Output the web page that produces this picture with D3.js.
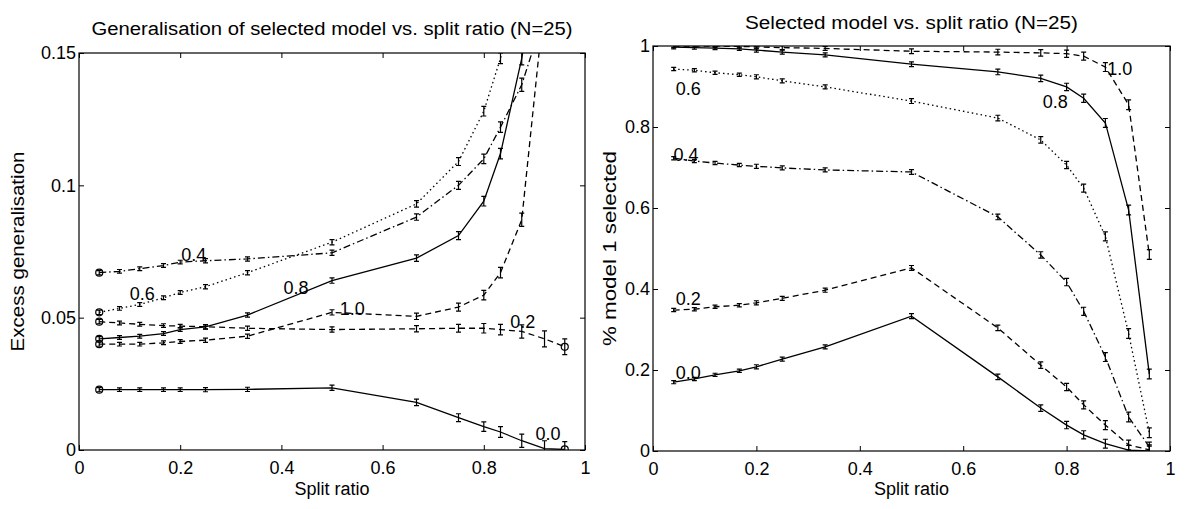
<!DOCTYPE html>
<html>
<head>
<meta charset="utf-8">
<script src="https://cdn.jsdelivr.net/npm/d3@7"></script>
<style>
body { margin: 0; background: #fff; }
text { font-family: "Liberation Sans", Arial, Helvetica, sans-serif; }
</style>
</head>
<body>
<svg id="chart" width="1188" height="509"></svg>
<script>
// split ratios (x) shared by both panels
var splitRatio = [0.04, 0.08, 0.12, 0.167, 0.2, 0.25, 0.333, 0.5, 0.667, 0.75, 0.8, 0.833, 0.875, 0.92, 0.96];
var seriesLabels = ["0.0", "0.2", "0.4", "0.6", "0.8", "1.0"];

// left panel: excess generalisation
var gen00 = [0.0228, 0.0228, 0.0228, 0.0228, 0.0228, 0.0228, 0.0229, 0.0235, 0.018, 0.0122, 0.0088, 0.0068, 0.0035, 0.0005, 0.0002];
var gen02 = [0.0485, 0.048, 0.0475, 0.047, 0.0468, 0.0466, 0.046, 0.0455, 0.0458, 0.046, 0.046, 0.0455, 0.0448, 0.042, 0.039];
var gen04 = [0.067, 0.0675, 0.0685, 0.0697, 0.071, 0.0715, 0.0722, 0.0745, 0.088, 0.100, 0.110, 0.122, 0.138, 0.165, 0.2];
var gen06 = [0.052, 0.0535, 0.055, 0.0575, 0.0595, 0.0617, 0.067, 0.0785, 0.093, 0.109, 0.128, 0.148, 0.18, 0.22, 0.26];
var gen08 = [0.042, 0.0425, 0.043, 0.044, 0.0455, 0.0465, 0.051, 0.064, 0.0725, 0.081, 0.094, 0.112, 0.148, 0.2, 0.25];
var gen10 = [0.040, 0.040, 0.040, 0.0405, 0.041, 0.0415, 0.043, 0.052, 0.0505, 0.054, 0.0585, 0.067, 0.087, 0.17, 0.22];
var genErr = [0.0008, 0.0007, 0.0007, 0.0007, 0.0007, 0.0008, 0.0008, 0.001, 0.0012, 0.0015, 0.0018, 0.002, 0.0025, 0.003, 0.003];

// right panel: % model 1 selected
var sel00 = [0.17, 0.178, 0.188, 0.198, 0.208, 0.227, 0.257, 0.333, 0.183, 0.106, 0.064, 0.040, 0.018, 0.002, 0.0];
var sel02 = [0.348, 0.35, 0.356, 0.36, 0.366, 0.377, 0.397, 0.452, 0.304, 0.212, 0.158, 0.114, 0.064, 0.015, 0.003];
var sel04 = [0.723, 0.716, 0.711, 0.706, 0.703, 0.699, 0.694, 0.689, 0.578, 0.484, 0.417, 0.345, 0.232, 0.084, 0.01];
var sel06 = [0.943, 0.94, 0.934, 0.929, 0.924, 0.914, 0.899, 0.864, 0.822, 0.768, 0.706, 0.649, 0.53, 0.29, 0.045];
var sel08 = [0.997, 0.996, 0.995, 0.993, 0.99, 0.985, 0.978, 0.955, 0.936, 0.92, 0.899, 0.871, 0.81, 0.595, 0.19];
var sel10 = [1.0, 1.0, 1.0, 0.999, 0.998, 0.996, 0.994, 0.987, 0.985, 0.983, 0.981, 0.975, 0.948, 0.855, 0.485];
var selErr = [0.004, 0.004, 0.004, 0.004, 0.005, 0.005, 0.005, 0.006, 0.007, 0.008, 0.009, 0.01, 0.011, 0.012, 0.012];

var xTicks = [0, 0.2, 0.4, 0.6, 0.8, 1];
var genTicks = [0, 0.05, 0.1, 0.15];
var selTicks = [0, 0.2, 0.4, 0.6, 0.8, 1];

// where the curve names sit, in data units
var genLabelPos = [[0.927, 0.006], [0.877, 0.0485], [0.227, 0.0739], [0.125, 0.059], [0.429, 0.0614], [0.54, 0.0534]];
var selLabelPos = [[0.068, 0.193], [0.068, 0.375], [0.064, 0.731], [0.068, 0.894], [0.778, 0.862], [0.903, 0.943]];

var dashes = ["", "6,4", "7,3,1.5,3", "1.5,3", "", "6,4"];

var svg = d3.select("#chart");

function drawPanel(cfg) {
    var g = svg.append("g");
    var x = d3.scaleLinear().domain([0, 1]).range([cfg.left, cfg.right]);
    var y = d3.scaleLinear().domain([0, cfg.ymax]).range([cfg.bottom, cfg.top]);

    g.append("clipPath").attr("id", cfg.id + "-clip")
        .append("rect")
        .attr("x", cfg.left).attr("y", cfg.top)
        .attr("width", cfg.right - cfg.left).attr("height", cfg.bottom - cfg.top);

    // axes, MATLAB style ticks pointing inwards
    var ax = [
        [d3.axisBottom(x).tickValues(xTicks).tickFormat(String).tickPadding(11), "translate(0," + cfg.bottom + ")"],
        [d3.axisTop(x).tickValues(xTicks).tickFormat(""), "translate(0," + cfg.top + ")"],
        [d3.axisLeft(y).tickValues(cfg.yTicks).tickFormat(String).tickPadding(3), "translate(" + cfg.left + ",0)"],
        [d3.axisRight(y).tickValues(cfg.yTicks).tickFormat(""), "translate(" + cfg.right + ",0)"]
    ];
    ax.forEach(function (a) {
        var s = g.append("g").attr("transform", a[1])
            .call(a[0].tickSizeInner(-5).tickSizeOuter(0));
        s.select(".domain").remove();
        s.attr("font-size", 18).attr("font-family", null);
        s.selectAll("line").attr("stroke", "#000").attr("stroke-width", 1);
        s.selectAll("text").attr("fill", "#000");
    });

    g.append("rect")
        .attr("x", cfg.left).attr("y", cfg.top)
        .attr("width", cfg.right - cfg.left).attr("height", cfg.bottom - cfg.top)
        .attr("fill", "none").attr("stroke", "#000").attr("stroke-width", 1.2);

    var line = d3.line()
        .x(function (d, i) { return x(splitRatio[i]); })
        .y(function (d) { return y(d); });

    var plot = g.append("g").attr("clip-path", "url(#" + cfg.id + "-clip)");

    cfg.series.forEach(function (vals, k) {
        plot.append("path")
            .attr("d", line(vals))
            .attr("fill", "none")
            .attr("stroke", "#000")
            .attr("stroke-width", 1.3)
            .attr("stroke-dasharray", dashes[k]);

        // error bars
        plot.selectAll(null).data(vals).enter().append("path")
            .attr("d", function (d, i) {
                var px = x(splitRatio[i]), y0 = y(d - cfg.err[i]), y1 = y(d + cfg.err[i]);
                return "M" + (px - 2.5) + "," + y0 + "H" + (px + 2.5) +
                    "M" + px + "," + y0 + "V" + y1 +
                    "M" + (px - 2.5) + "," + y1 + "H" + (px + 2.5);
            })
            .attr("fill", "none").attr("stroke", "#000").attr("stroke-width", 1.2);

        if (cfg.circles) {
            [0, vals.length - 1].forEach(function (i) {
                plot.append("circle")
                    .attr("cx", x(splitRatio[i])).attr("cy", y(vals[i])).attr("r", 3.5)
                    .attr("fill", "none").attr("stroke", "#000").attr("stroke-width", 1.2);
            });
        }
    });

    // curve names
    g.selectAll(null).data(cfg.labelPos).enter().append("text")
        .attr("x", function (d) { return x(d[0]); })
        .attr("y", function (d) { return y(d[1]); })
        .attr("dy", "0.35em")
        .attr("text-anchor", "middle")
        .attr("font-size", 18)
        .text(function (d, i) { return seriesLabels[i]; });

    // titles
    var cx = (cfg.left + cfg.right) / 2;
    g.append("text").attr("x", cx).attr("y", cfg.titleY)
        .attr("text-anchor", "middle").attr("font-size", 18)
        .attr("textLength", cfg.titleLen).attr("lengthAdjust", "spacingAndGlyphs")
        .text(cfg.title);
    g.append("text").attr("x", cx).attr("y", 495)
        .attr("text-anchor", "middle").attr("font-size", 18)
        .text("Split ratio");
    g.append("text")
        .attr("transform", "translate(" + cfg.ylabelX + "," + ((cfg.top + cfg.bottom) / 2) + ") rotate(-90)")
        .attr("text-anchor", "middle").attr("font-size", 18)
        .attr("textLength", cfg.ylabelLen).attr("lengthAdjust", "spacingAndGlyphs")
        .text(cfg.ylabel);
}

drawPanel({
    id: "gen", left: 79, right: 585, top: 53, bottom: 450, ymax: 0.15,
    yTicks: genTicks, err: genErr, circles: true,
    series: [gen00, gen02, gen04, gen06, gen08, gen10],
    labelPos: genLabelPos,
    title: "Generalisation of selected model vs. split ratio (N=25)", titleY: 35, titleLen: 481,
    ylabel: "Excess generalisation", ylabelX: 24, ylabelLen: 200
});

drawPanel({
    id: "sel", left: 653, right: 1170, top: 46, bottom: 451, ymax: 1,
    yTicks: selTicks, err: selErr, circles: false,
    series: [sel00, sel02, sel04, sel06, sel08, sel10],
    labelPos: selLabelPos,
    title: "Selected model vs. split ratio (N=25)", titleY: 29, titleLen: 333,
    ylabel: "% model 1 selected", ylabelX: 616, ylabelLen: 195
});
</script>
</body>
</html>
